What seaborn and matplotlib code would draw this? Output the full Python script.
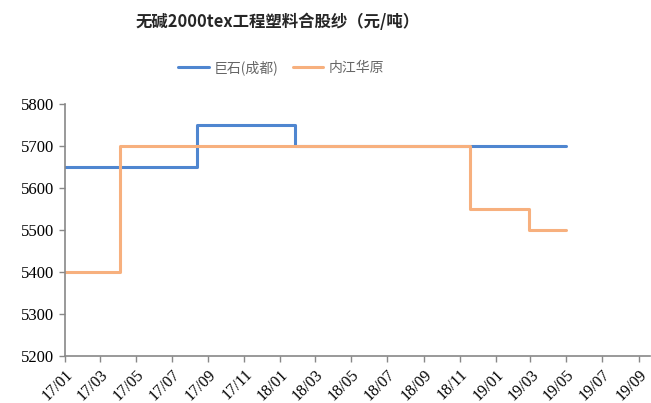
import pandas as pd
import matplotlib.pyplot as plt
import matplotlib.dates as mdates
import seaborn as sns

sns.set_style("white")
plt.rcParams["font.family"] = ["Liberation Serif", "Noto Sans CJK SC", "DejaVu Sans"]

# 巨石(成都) price changes (step, value holds until next date)
jushi_dates = ["2017-01-01", "2017-08-12", "2018-01-26", "2019-04-30"]
jushi_values = [5650, 5750, 5700, 5700]
# 内江华原
neijiang_dates = ["2017-01-01", "2017-04-05", "2018-11-18", "2019-02-27", "2019-04-30"]
neijiang_values = [5400, 5700, 5550, 5500, 5500]

df = pd.concat([
    pd.DataFrame({"date": pd.to_datetime(jushi_dates), "price": jushi_values, "name": "巨石(成都)"}),
    pd.DataFrame({"date": pd.to_datetime(neijiang_dates), "price": neijiang_values, "name": "内江华原"}),
])

fig = plt.figure(figsize=(6.51, 4.03), dpi=100)
ax = fig.add_axes([0.0998, 0.1166, 0.898, 0.626])
sns.lineplot(data=df, x="date", y="price", hue="name", drawstyle="steps-post",
             palette=["#4F86D0", "#F7B07E"], linewidth=2.2, ax=ax, legend=False)

ax.set_xlim(pd.Timestamp("2017-01-01"), pd.Timestamp("2019-09-19"))
ax.set_ylim(5200, 5800)
ax.set_yticks(range(5200, 5801, 100))
ax.xaxis.set_major_locator(mdates.MonthLocator(bymonth=[1, 3, 5, 7, 9, 11]))
ax.xaxis.set_major_formatter(mdates.DateFormatter("%y/%m"))
for lab in ax.get_xticklabels():
    lab.set_rotation(45)
    lab.set_ha("right")
    lab.set_rotation_mode("anchor")
ax.tick_params(axis="both", colors="black", length=4, width=1,
               direction="out", bottom=True, left=True)
ax.tick_params(axis="x", labelsize=11.5)
ax.tick_params(axis="y", labelsize=12)
ax.tick_params(axis="both", color="#888888")
ax.set_xlabel("")
ax.set_ylabel("")
for side in ["top", "right"]:
    ax.spines[side].set_visible(False)
for side in ["left", "bottom"]:
    ax.spines[side].set_color("#888888")
    ax.spines[side].set_linewidth(1.2)

fig.text(0.426, 0.945, "无碱2000tex工程塑料合股纱（元/吨）", ha="center", va="center",
         fontsize=11.8, fontweight="bold", family=["Noto Sans CJK SC", "DejaVu Sans"])

h1 = plt.Line2D([], [], color="#4F86D0", linewidth=2.2)
h2 = plt.Line2D([], [], color="#F7B07E", linewidth=2.2)
fig.legend([h1, h2], ["巨石(成都)", "内江华原"], loc="center", bbox_to_anchor=(0.432, 0.832),
           ncol=2, frameon=False, handlelength=2.2, columnspacing=1.0, handletextpad=0.4,
           prop={"family": ["Noto Sans CJK SC"], "size": 10}, labelcolor="#666666")

fig.savefig("out.png", dpi=100)
